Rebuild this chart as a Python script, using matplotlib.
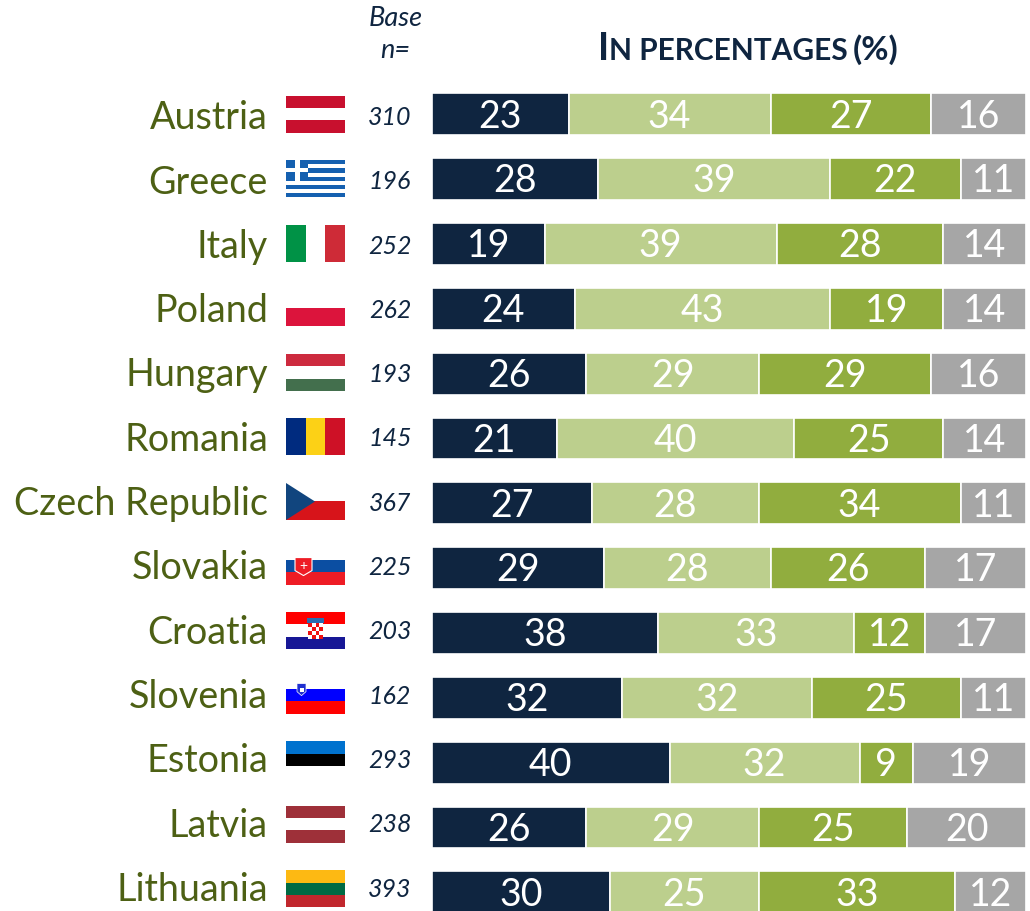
import matplotlib
matplotlib.use('Agg')
import matplotlib.pyplot as plt
from matplotlib.patches import Polygon, Rectangle

countries = ['Austria', 'Greece', 'Italy', 'Poland', 'Hungary', 'Romania', 'Czech Republic',
             'Slovakia', 'Croatia', 'Slovenia', 'Estonia', 'Latvia', 'Lithuania']
base_n = [310, 196, 252, 262, 193, 145, 367, 225, 203, 162, 293, 238, 393]
seg1 = [23, 28, 19, 24, 26, 21, 27, 29, 38, 32, 40, 26, 30]
seg2 = [34, 39, 39, 43, 29, 40, 28, 28, 33, 32, 32, 29, 25]
seg3 = [27, 22, 28, 19, 29, 25, 34, 26, 12, 25, 9, 25, 33]
seg4 = [16, 11, 14, 14, 16, 14, 11, 17, 17, 11, 19, 20, 12]

seg_colors = ['#0F2540', '#BCCF8D', '#91AD3E', '#A6A6A6']
navy = '#0F2540'
olive = '#4D6014'

# flag stripes, top to bottom (or left to right for the vertical ones)
flag_stripes = {
    'Austria': ['#C8102E', '#FFFFFF', '#C8102E'],
    'Greece': ['#1560B0', '#FFFFFF', '#1560B0', '#FFFFFF', '#1560B0', '#FFFFFF', '#1560B0', '#FFFFFF', '#1560B0'],
    'Italy': ['#009246', '#FFFFFF', '#CE2B37'],
    'Poland': ['#FFFFFF', '#DC143C'],
    'Hungary': ['#CD2A3E', '#FFFFFF', '#436F4D'],
    'Romania': ['#002B7F', '#FCD116', '#CE1126'],
    'Czech Republic': ['#FFFFFF', '#D7141A'],
    'Slovakia': ['#FFFFFF', '#0B4EA2', '#EE1C25'],
    'Croatia': ['#FF0000', '#FFFFFF', '#171796'],
    'Slovenia': ['#FFFFFF', '#0000FF', '#FF0000'],
    'Estonia': ['#0072CE', '#000000', '#FFFFFF'],
    'Latvia': ['#9E3039', '#FFFFFF', '#9E3039'],
    'Lithuania': ['#FDB913', '#006A44', '#C1272D'],
}
vertical_flags = ['Italy', 'Romania']

W, H = 1030, 912
fig = plt.figure(figsize=(W / 100, H / 100), dpi=100, facecolor='white')
plt.rcParams['font.family'] = ['Lato', 'DejaVu Sans']

# overlay in pixel coordinates for flags and text
ov = fig.add_axes([0, 0, 1, 1])
ov.set_xlim(0, W)
ov.set_ylim(H, 0)
ov.axis('off')

# bar axes: x is percent, y is row number
row0 = 115.3
row_step = 64.83
bar_left = 432
bar_right = 1026
ax = fig.add_axes([bar_left / W, 0, (bar_right - bar_left) / W, 1])
ax.set_xlim(0, 100)
ax.set_ylim((H - row0) / row_step, -row0 / row_step)
ax.axis('off')
ax.patch.set_alpha(0)

rows = list(range(len(countries)))
left = [0] * len(countries)
for vals, col in zip([seg1, seg2, seg3, seg4], seg_colors):
    ax.barh(rows, vals, left=left, height=0.645, color=col, edgecolor='white', linewidth=1.2)
    for r, v, l in zip(rows, vals, left):
        ax.text(l + v / 2, r + 0.02, str(v), ha='center', va='center', color='white', fontsize=27)
    left = [l + v for l, v in zip(left, vals)]

flag_x, flag_w = 286, 59
flag_h = 37
for i, name in enumerate(countries):
    # the labels and flags sit on a slightly tighter pitch than the bars
    yl = 118.3 + 64.3 * i
    ov.text(268, yl, name, ha='right', va='center', color=olive, fontsize=27.2)
    ov.text(390, yl - 0.8, str(base_n[i]), ha='center', va='center', color=navy, fontsize=18, style='italic')

    top = 96.7 + 64.55 * i
    stripes = flag_stripes[name]
    n = len(stripes)
    for k, c in enumerate(stripes):
        if name in vertical_flags:
            ov.add_patch(Rectangle((flag_x + k * flag_w / n, top), flag_w / n, flag_h, color=c, lw=0))
        else:
            ov.add_patch(Rectangle((flag_x, top + k * flag_h / n), flag_w, flag_h / n, color=c, lw=0))
    if name == 'Greece':
        ov.add_patch(Rectangle((flag_x, top), 22, flag_h * 5 / 9, color='#1560B0', lw=0))
        ov.add_patch(Rectangle((flag_x + 9, top), 4.5, flag_h * 5 / 9, color='white', lw=0))
        ov.add_patch(Rectangle((flag_x, top + 8), 22, 4, color='white', lw=0))
    if name == 'Czech Republic':
        ov.add_patch(Polygon([(flag_x, top), (flag_x + 29, top + flag_h / 2), (flag_x, top + flag_h)],
                             color='#11457E', lw=0))
    if name == 'Slovakia':
        ov.add_patch(Polygon([(flag_x + 9, top + 10), (flag_x + 26, top + 10), (flag_x + 26, top + 23),
                              (flag_x + 17.5, top + 28), (flag_x + 9, top + 23)],
                             facecolor='#EE1C25', edgecolor='white', lw=0.8))
        ov.text(flag_x + 17.5, top + 17, '+', color='white', fontsize=10, ha='center', va='center')
    if name == 'Croatia':
        ov.add_patch(Rectangle((flag_x + 21, top + 6), 17, 5, color='#2A6DB0', lw=0))
        ov.add_patch(Rectangle((flag_x + 22, top + 11), 15, 16, color='white', lw=0))
        for a in range(4):
            for b in range(4):
                if (a + b) % 2 == 0:
                    ov.add_patch(Rectangle((flag_x + 22 + a * 3.75, top + 11 + b * 4), 3.75, 4, color='#EE1111', lw=0))
    if name == 'Slovenia':
        ov.add_patch(Polygon([(flag_x + 11, top + 7), (flag_x + 20, top + 7), (flag_x + 20, top + 15),
                              (flag_x + 15.5, top + 19), (flag_x + 11, top + 15)],
                             facecolor='#2030D0', edgecolor='white', lw=0.5))
        ov.add_patch(Rectangle((flag_x + 13.5, top + 11), 4, 4, color='white', lw=0))

ov.text(396, 18, 'Base', ha='center', va='center', color=navy, fontsize=19.5, style='italic')
ov.text(395, 51, 'n=', ha='center', va='center', color=navy, fontsize=19.5, style='italic')

# small caps heading, big initial then smaller letters
ov.text(598, 60, 'I', ha='left', va='baseline', color=navy, fontsize=27, fontweight='bold')
ov.text(609, 60, 'N PERCENTAGES', ha='left', va='baseline', color=navy, fontsize=21.5, fontweight='bold')
ov.text(898, 60, '(%)', ha='right', va='baseline', color=navy, fontsize=24, fontweight='bold')

fig.savefig('out.png', dpi=100, facecolor='white')
